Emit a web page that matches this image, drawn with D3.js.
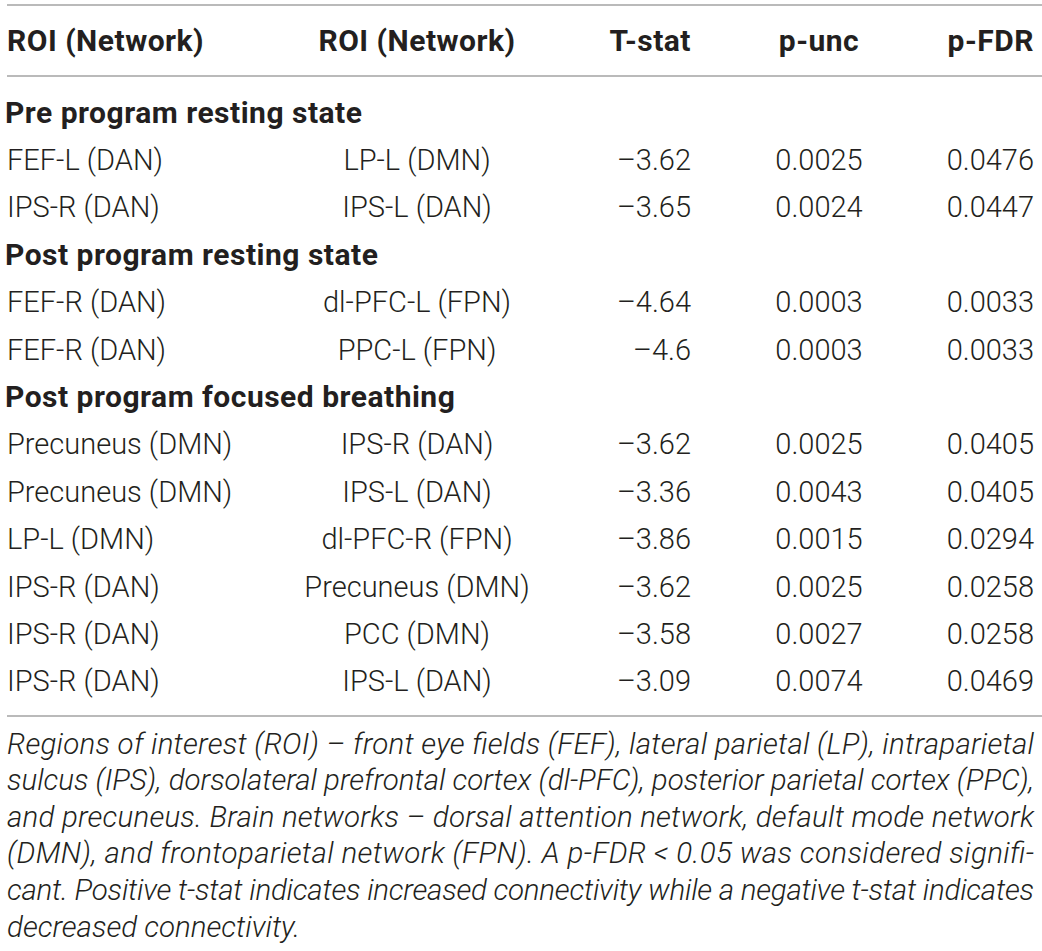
<!DOCTYPE html>
<html>
<head>
<meta charset="utf-8">
<script src="https://cdn.jsdelivr.net/npm/d3@7"></script>
<style>
  html, body { margin: 0; padding: 0; background: #fff; }
  svg { display: block; }
</style>
</head>
<body>
<svg id="chart" width="1042" height="951"></svg>
<script>
// ---- data ----
const headers = ["ROI (Network)", "ROI (Network)", "T-stat", "p-unc", "p-FDR"];
const sections = ["Pre program resting state", "Post program resting state", "Post program focused breathing"];
const sectionOf = [0, 0, 1, 1, 2, 2, 2, 2, 2, 2];
const roiA = ["FEF-L (DAN)", "IPS-R (DAN)", "FEF-R (DAN)", "FEF-R (DAN)", "Precuneus (DMN)", "Precuneus (DMN)", "LP-L (DMN)", "IPS-R (DAN)", "IPS-R (DAN)", "IPS-R (DAN)"];
const roiB = ["LP-L (DMN)", "IPS-L (DAN)", "dl-PFC-L (FPN)", "PPC-L (FPN)", "IPS-R (DAN)", "IPS-L (DAN)", "dl-PFC-R (FPN)", "Precuneus (DMN)", "PCC (DMN)", "IPS-L (DAN)"];
const tStat = ["\u20133.62", "\u20133.65", "\u20134.64", "\u20134.6", "\u20133.62", "\u20133.36", "\u20133.86", "\u20133.62", "\u20133.58", "\u20133.09"];
const pUnc = ["0.0025", "0.0024", "0.0003", "0.0003", "0.0025", "0.0043", "0.0015", "0.0025", "0.0027", "0.0074"];
const pFDR = ["0.0476", "0.0447", "0.0033", "0.0033", "0.0405", "0.0405", "0.0294", "0.0258", "0.0258", "0.0469"];
const captionLines = [
  "Regions of interest (ROI) \u2013 front eye fields (FEF), lateral parietal (LP), intraparietal",
  "sulcus (IPS), dorsolateral prefrontal cortex (dl-PFC), posterior parietal cortex (PPC),",
  "and precuneus. Brain networks \u2013 dorsal attention network, default mode network",
  "(DMN), and frontoparietal network (FPN). A p-FDR < 0.05 was considered signifi-",
  "cant. Positive t-stat indicates increased connectivity while a negative t-stat indicates",
  "decreased connectivity."
];

// ---- build row list ----
const rows = [];
sectionOf.forEach((s, i) => {
  if (i === 0 || sectionOf[i - 1] !== s) rows.push({ type: "section", text: sections[s] });
  rows.push({ type: "data", vals: [roiA[i], roiB[i], tStat[i], pUnc[i], pFDR[i]] });
});

const svg = d3.select("#chart");
const W = 1042;
const font = "Roboto, 'Liberation Sans', Arial, sans-serif";
const textColor = "#231f20";
const lineColor = "#a3a3a3";

const y = d3.scalePoint().domain(d3.range(rows.length)).range([112, 681]);
const cols = [
  { x: 7, anchor: "start" },
  { x: 417, anchor: "middle" },
  { x: 691, anchor: "end" },
  { x: 819, anchor: "middle" },
  { x: 1034, anchor: "end" }
];

// rules
[5, 76, 716].forEach(ly => {
  svg.append("line").attr("x1", 7).attr("x2", W).attr("y1", ly).attr("y2", ly)
    .attr("stroke", lineColor).attr("stroke-width", 1.6);
});

// header
svg.append("g").selectAll("text").data(headers).join("text")
  .attr("x", (d, i) => cols[i].x).attr("y", 40).attr("dy", "0.36em")
  .attr("text-anchor", (d, i) => cols[i].anchor)
  .attr("font-family", font).attr("font-weight", 700).attr("font-size", 30)
  .attr("letter-spacing", 0.5)
  .attr("fill", textColor).text(d => d);

// rows
const g = svg.append("g");
rows.forEach((r, i) => {
  if (r.type === "section") {
    g.append("text").attr("x", 5).attr("y", y(i)).attr("dy", "0.36em")
      .attr("font-family", font).attr("font-weight", 700).attr("font-size", 30)
      .attr("letter-spacing", 0.5)
      .attr("fill", textColor).text(r.text);
  } else {
    g.append("g").selectAll("text").data(r.vals).join("text")
      .attr("x", (d, j) => cols[j].x).attr("y", y(i)).attr("dy", "0.36em")
      .attr("text-anchor", (d, j) => cols[j].anchor)
      .attr("font-family", font).attr("font-weight", 300).attr("font-size", 29)
      .attr("fill", textColor).text(d => d);
  }
});

// caption
const cap = svg.append("g");
captionLines.forEach((t, i) => {
  const tx = cap.append("text").attr("x", 7).attr("y", 743 + i * 36.6).attr("dy", "0.36em")
    .attr("font-family", font).attr("font-style", "italic").attr("font-weight", 300).attr("font-size", 29.5)
    .attr("fill", textColor).text(t);
  if (i < captionLines.length - 1) {
    tx.attr("textLength", 1027).attr("lengthAdjust", "spacing");
  }
});
</script>
</body>
</html>
